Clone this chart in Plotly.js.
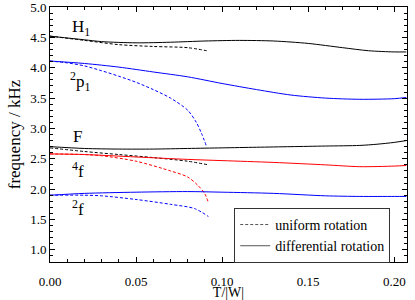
<!DOCTYPE html>
<html>
<head>
<meta charset="utf-8">
<script src="https://cdn.plot.ly/plotly-3.0.1.min.js"></script>
<style>html,body{margin:0;padding:0;background:#fff;}#chart{width:415px;height:300px;}</style>
</head>
<body>
<div id="chart"></div>
<script>
// H1 mode
var h1DiffX = [0, 0.01, 0.02, 0.03, 0.05, 0.07, 0.09, 0.11, 0.13, 0.15, 0.17, 0.185, 0.2, 0.207];
var h1DiffY = [4.52, 4.49, 4.46, 4.43, 4.41, 4.42, 4.44, 4.45, 4.44, 4.40, 4.33, 4.28, 4.26, 4.26];
var h1UniX = [0, 0.02, 0.04, 0.06, 0.08, 0.091];
var h1UniY = [4.52, 4.45, 4.38, 4.35, 4.33, 4.28];
// 2p1 mode
var p1DiffX = [0, 0.02, 0.04, 0.06, 0.08, 0.1, 0.12, 0.14, 0.16, 0.18, 0.2, 0.207];
var p1DiffY = [4.11, 4.07, 4.01, 3.93, 3.85, 3.74, 3.64, 3.55, 3.50, 3.48, 3.49, 3.51];
var p1UniX = [0, 0.01, 0.02, 0.03, 0.04, 0.05, 0.06, 0.07, 0.08, 0.085, 0.088, 0.091];
var p1UniY = [4.11, 4.08, 4.03, 3.95, 3.86, 3.76, 3.64, 3.50, 3.30, 3.10, 2.92, 2.70];
// F mode
var fDiffX = [0, 0.02, 0.04, 0.06, 0.08, 0.1, 0.12, 0.14, 0.16, 0.18, 0.19, 0.2, 0.207];
var fDiffY = [2.70, 2.67, 2.66, 2.66, 2.67, 2.68, 2.69, 2.70, 2.71, 2.72, 2.74, 2.77, 2.80];
var fUniX = [0, 0.02, 0.04, 0.06, 0.08, 0.092];
var fUniY = [2.68, 2.62, 2.57, 2.52, 2.46, 2.40];
// 4f mode
var f4DiffX = [0, 0.02, 0.05, 0.08, 0.1, 0.13, 0.16, 0.18, 0.2, 0.207];
var f4DiffY = [2.58, 2.57, 2.53, 2.49, 2.47, 2.44, 2.40, 2.37, 2.38, 2.39];
var f4UniX = [0, 0.02, 0.03, 0.05, 0.07, 0.08, 0.086, 0.09, 0.092];
var f4UniY = [2.58, 2.57, 2.55, 2.46, 2.30, 2.20, 2.06, 1.92, 1.78];
// 2f mode
var f2DiffX = [0, 0.02, 0.05, 0.08, 0.1, 0.13, 0.16, 0.18, 0.2, 0.207];
var f2DiffY = [1.90, 1.93, 1.95, 1.96, 1.95, 1.93, 1.89, 1.88, 1.88, 1.88];
var f2UniX = [0, 0.02, 0.03, 0.05, 0.07, 0.084, 0.092];
var f2UniY = [1.90, 1.90, 1.89, 1.83, 1.75, 1.68, 1.55];

var legendNames = ["uniform rotation", "differential rotation"];
var modeLabels = ["H<sub>1</sub>", "<sup>2</sup>p<sub>1</sub>", "F", "<sup>4</sup>f", "<sup>2</sup>f"];

var BLACK = "#000000", BLUE = "#0000ff", RED = "#ff0000";
var DASH = "3px,2px";

function tr(x, y, color, dashed) {
  return {x: x, y: y, type: "scatter", mode: "lines", showlegend: false, hoverinfo: "skip",
    line: {color: color, width: 1, dash: dashed ? DASH : "solid", shape: "spline", smoothing: 0.8}};
}

var data = [
  tr(h1DiffX, h1DiffY, BLACK, false), tr(h1UniX, h1UniY, BLACK, true),
  tr(p1DiffX, p1DiffY, BLUE, false), tr(p1UniX, p1UniY, BLUE, true),
  tr(fDiffX, fDiffY, BLACK, false), tr(fUniX, fUniY, BLACK, true),
  tr(f4DiffX, f4DiffY, RED, false), tr(f4UniX, f4UniY, RED, true),
  tr(f2DiffX, f2DiffY, BLUE, false), tr(f2UniX, f2UniY, BLUE, true),
  {x: [null], y: [null], type: "scatter", mode: "lines", name: legendNames[0], line: {color: "#555", width: 1, dash: DASH}},
  {x: [null], y: [null], type: "scatter", mode: "lines", name: legendNames[1], line: {color: "#555", width: 1}}
];

var SERIF = "Liberation Serif";
var labelPos = [[0.0116, 4.66], [0.0105, 3.78], [0.0122, 2.87], [0.0115, 2.32], [0.0115, 1.69]];
var annotations = modeLabels.map(function(t, i) {
  return {x: labelPos[i][0], y: labelPos[i][1], xref: "x", yref: "y", text: t, showarrow: false,
    xanchor: "left", yanchor: "middle", font: {family: SERIF, size: 17, color: "#000"}};
});

var axisCommon = {
  showgrid: false, zeroline: false, showline: true, linecolor: "#000", linewidth: 1,
  mirror: "allticks", ticks: "inside", ticklen: 5, tickcolor: "#000", tickwidth: 1,
  tickfont: {family: SERIF, size: 13, color: "#000"}, automargin: false,
  ticklabeloverflow: "allow"
};

var layout = {
  width: 415, height: 300,
  margin: {l: 50, r: 8, t: 7, b: 38},
  paper_bgcolor: "#fff", plot_bgcolor: "#fff",
  font: {family: SERIF, color: "#000"},
  xaxis: Object.assign({}, axisCommon, {
    range: [0, 0.2074], tickvals: [0, 0.05, 0.1, 0.15, 0.2], ticktext: ["0.00", "0.05", "0.10", "0.15", "0.20"],
    ticklabelstandoff: 7,
    minor: {dtick: 0.01, tick0: 0, ticks: "inside", ticklen: 3, tickcolor: "#000", showgrid: false},
    title: {text: "T/|W|", font: {family: SERIF, size: 14}, standoff: 0}
  }),
  yaxis: Object.assign({}, axisCommon, {
    range: [0.8, 5.0001], tickvals: [1.0, 1.5, 2.0, 2.5, 3.0, 3.5, 4.0, 4.5, 5.0],
    ticktext: ["1.0", "1.5", "2.0", "2.5", "3.0", "3.5", "4.0", "4.5", "5.0"],
    minor: {dtick: 0.1, tick0: 0, ticks: "inside", ticklen: 3, tickcolor: "#000", showgrid: false},
    title: {text: "frequency / kHz", font: {family: SERIF, size: 17}, standoff: 5}
  }),
  legend: {x: 0.516, y: 0.212, xanchor: "left", yanchor: "top", bgcolor: "#fff",
    bordercolor: "#333", borderwidth: 1, font: {family: SERIF, size: 14, color: "#000"},
    tracegroupgap: 0, itemwidth: 30},
  annotations: annotations
};

Plotly.newPlot("chart", data, layout, {staticPlot: true, displayModeBar: false});
</script>
</body>
</html>
